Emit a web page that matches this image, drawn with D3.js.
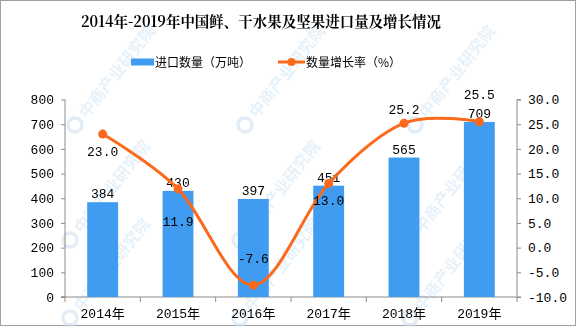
<!DOCTYPE html>
<html><head><meta charset="utf-8">
<script src="https://cdn.jsdelivr.net/npm/d3@7"></script>
<style>body{margin:0;background:#fff}svg{display:block}</style>
</head><body><svg id="c" width="576" height="327"></svg>
<script>
const categories = ["2014年","2015年","2016年","2017年","2018年","2019年"];
const importVolume = [384, 430, 397, 451, 565, 709];
const growthRate = [23.0, 11.9, -7.6, 13.0, 25.2, 25.5];
const leftTicks = [0,100,200,300,400,500,600,700,800];
const rightTicks = [-10,-5,0,5,10,15,20,25,30];
const title = "2014年-2019年中国鲜、干水果及坚果进口量及增长情况";
const seriesNames = ["进口数量（万吨）","数量增长率（%）"];
const watermark = "中商产业研究院";
// label offsets (px, baseline relative to point)
const rateLabelDy = [22, 37, -22, 22, -9, -23];

const svg = d3.select("#c");
const W = 576, H = 327;
const m = {l:65, r:517, t:99.5, b:297};
const numFont = "'Liberation Mono', 'DejaVu Sans Mono', monospace";
const cjkFont = "'Liberation Mono', 'Noto Sans CJK SC', monospace";
const blue = "#3f9cf0", orange = "#fb6a1c", axisC = "#8c8c8c";

svg.append("rect").attr("x",0.5).attr("y",0.5).attr("width",W-1).attr("height",H-2)
  .attr("fill","#fff").attr("stroke","#a0a0a0");

// watermarks (kept fully inside the picture)
const wm = svg.append("g").attr("opacity",0.6);
const wmPos = [[75,125],[245,125],[415,125],[70,240],[240,240],[410,240],[70,318],[240,318],[410,318]];
wmPos.forEach(([x,y])=>{
  const g = wm.append("g").attr("transform",`translate(${x},${y}) rotate(-52)`);
  g.append("circle").attr("r",7).attr("fill","none").attr("stroke","#cfe2f3").attr("stroke-width",3.5);
  g.append("text").attr("x",12).attr("y",6).attr("font-family","'Noto Sans CJK SC'").attr("font-size",16)
    .attr("font-weight","bold").attr("fill","#d6e8f6").text(watermark);
});

const x = d3.scaleBand().domain(categories).range([m.l, m.r]).paddingInner(0.59).paddingOuter(0.295);
const xb = d3.scaleBand().domain(categories).range([m.l, m.r]);
const yL = d3.scaleLinear().domain([0,800]).range([m.b, m.t]);
const yR = d3.scaleLinear().domain([-10,30]).range([m.b, m.t]);

// axes
const axL = svg.append("g").attr("transform",`translate(${m.l},0)`)
  .call(d3.axisLeft(yL).tickValues(leftTicks).tickSize(4).tickPadding(7));
const axR = svg.append("g").attr("transform",`translate(${m.r},0)`)
  .call(d3.axisRight(yR).tickValues(rightTicks).tickSize(4).tickPadding(7).tickFormat(d3.format(".1f")));
[axL, axR].forEach(a=>{
  a.select(".domain").attr("stroke",axisC).attr("d", a===axL ? `M-4,${m.b}H0V${m.t}` : `M0,${m.b}V${m.t}H4`);
  a.selectAll(".tick line").attr("stroke",axisC);
  a.selectAll(".tick text").attr("font-family",numFont).attr("font-size",13).attr("fill","#000");
});
axR.selectAll(".tick text").text(d=>d3.format(".1f")(d).replace("−","-"));

const axB = svg.append("g");
axB.append("line").attr("x1",m.l-4).attr("x2",m.r+4).attr("y1",m.b).attr("y2",m.b).attr("stroke",axisC);
const bounds = categories.map(c=>xb(c)).concat([m.r]);
axB.selectAll("line.t").data(bounds).join("line").attr("class","t")
  .attr("x1",d=>d).attr("x2",d=>d).attr("y1",m.b).attr("y2",m.b+5).attr("stroke",axisC);
axB.selectAll("text").data(categories).join("text")
  .attr("x",d=>xb(d)+xb.bandwidth()/2).attr("y",m.b+21).attr("text-anchor","middle")
  .attr("font-family",cjkFont).attr("font-size",13).attr("fill","#000").text(d=>d);

// bars
svg.append("g").selectAll("rect").data(importVolume).join("rect")
  .attr("x",(d,i)=>x(categories[i])).attr("width",x.bandwidth())
  .attr("y",d=>yL(d)).attr("height",d=>yL(0)-yL(d)).attr("fill",blue);
svg.append("g").selectAll("text").data(importVolume).join("text")
  .attr("x",(d,i)=>x(categories[i])+x.bandwidth()/2).attr("y",d=>yL(d)-4)
  .attr("text-anchor","middle").attr("font-family",numFont).attr("font-size",13).attr("fill","#000").text(d=>d);

// line
const cx = i => xb(categories[i]) + xb.bandwidth()/2;
const line = d3.line().x((d,i)=>cx(i)).y(d=>yR(d)).curve(d3.curveCardinal.tension(0));
svg.append("path").datum(growthRate).attr("d",line).attr("fill","none").attr("stroke",orange).attr("stroke-width",3);
svg.append("g").selectAll("circle").data(growthRate).join("circle")
  .attr("cx",(d,i)=>cx(i)).attr("cy",d=>yR(d)).attr("r",4.5).attr("fill",orange);
svg.append("g").selectAll("text").data(growthRate).join("text")
  .attr("x",(d,i)=>cx(i)).attr("y",(d,i)=>yR(d)+rateLabelDy[i])
  .attr("text-anchor","middle").attr("font-family",numFont).attr("font-size",13).attr("fill","#000")
  .text(d=>d3.format(".1f")(d).replace("−","-"));

// title
svg.append("text").attr("x",81).attr("y",27)
  .attr("font-family","'Noto Serif CJK SC','Noto Sans CJK SC', serif").attr("font-weight","bold")
  .attr("font-size",15).attr("textLength",360).attr("lengthAdjust","spacingAndGlyphs")
  .attr("fill","#000").text(title);

// legend
const lg = svg.append("g");
lg.append("rect").attr("x",131).attr("y",58.5).attr("width",23).attr("height",7).attr("fill",blue);
lg.append("text").attr("x",155).attr("y",67).attr("font-family","'Noto Sans CJK SC'").attr("font-size",12).attr("fill","#000").text(seriesNames[0]);
lg.append("line").attr("x1",278).attr("x2",305).attr("y1",62).attr("y2",62).attr("stroke",orange).attr("stroke-width",3);
lg.append("circle").attr("cx",291.5).attr("cy",62).attr("r",4).attr("fill",orange);
lg.append("text").attr("x",306).attr("y",67).attr("font-family","'Noto Sans CJK SC'").attr("font-size",12).attr("fill","#000").text(seriesNames[1]);
</script></body></html>
